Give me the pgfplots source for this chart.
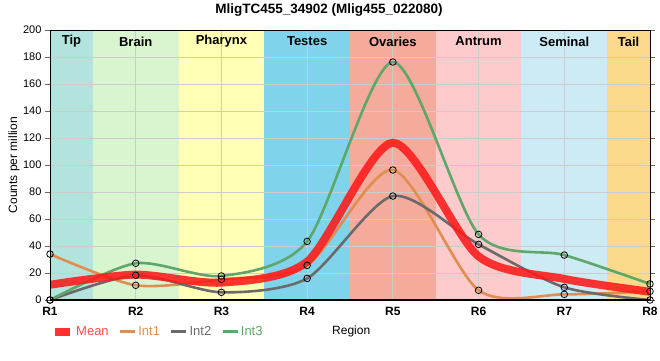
\documentclass[border=0pt]{standalone}
\usepackage{fontspec}
\setmainfont{Liberation Sans}
\usepackage{pgfplots}
\pgfplotsset{compat=1.18}
\definecolor{cTip}{HTML}{B3E3DD}
\definecolor{cBrain}{HTML}{D9F5D0}
\definecolor{cPharynx}{HTML}{FFFFB5}
\definecolor{cTestes}{HTML}{7FD4EB}
\definecolor{cOvaries}{HTML}{F5AB9C}
\definecolor{cAntrum}{HTML}{FDCBCB}
\definecolor{cSeminal}{HTML}{CDEBF4}
\definecolor{cTail}{HTML}{FDD98C}
\definecolor{cMean}{HTML}{FF1A1A}
\definecolor{cMeanT}{HTML}{FF4D4D}
\definecolor{cInt1}{HTML}{E08E50}
\definecolor{cInt2}{HTML}{6A6A6A}
\definecolor{cInt3}{HTML}{5EA66A}
\begin{document}
\begin{tikzpicture}[x=1pt,y=1pt]
\begin{axis}[
  at={(0,0)}, anchor=south west,
  scale only axis, width=600pt, height=270pt,
  xmin=1, xmax=8, ymin=0, ymax=200,
  set layers,
  xtick={1,2,3,4,5,6,7,8},
  xticklabels={R1,R2,R3,R4,R5,R6,R7,R8},
  ytick={0,20,...,200},
  grid=major,
  grid style={color=black!20, line width=0.8pt},
  axis line style={line width=0.8pt},
  tick align=outside,
  xtick style={draw=none},
  ytick style={color=black!60, line width=0.6pt},
  major tick length=5pt,
  xticklabel style={font=\bfseries\fontsize{12}{14}\selectfont, yshift=1pt},
  yticklabel style={font=\fontsize{11}{13}\selectfont, xshift=0pt},
  /pgf/number format/assume math mode=true,
  xlabel={Region},
  xlabel style={at={(axis description cs:0.502,-0.117)}, anchor=center, font=\fontsize{12}{14}\selectfont},
  ylabel={Counts per million},
  ylabel style={at={(axis description cs:-0.06,0.5)}, anchor=center, rotate=0, font=\fontsize{12}{14}\selectfont},
  legend style={at={(axis description cs:0,-0.117)}, anchor=west, draw=none, fill=none,
    font=\fontsize{13}{15}\selectfont, inner sep=1pt,
    /tikz/every even column/.append style={column sep=8pt}},
  legend columns=-1,
  legend image code/.code={\draw[#1] (0pt,0pt) -- (15pt,0pt);},
]
% background bands
\addplot[fill=cTip, draw=none, on layer=axis background, forget plot] coordinates {(1,200)(1.5,200)} \closedcycle;
\addplot[fill=cBrain, draw=none, on layer=axis background, forget plot] coordinates {(1.5,200)(2.5,200)} \closedcycle;
\addplot[fill=cPharynx, draw=none, on layer=axis background, forget plot] coordinates {(2.5,200)(3.5,200)} \closedcycle;
\addplot[fill=cTestes, draw=none, on layer=axis background, forget plot] coordinates {(3.5,200)(4.5,200)} \closedcycle;
\addplot[fill=cOvaries, draw=none, on layer=axis background, forget plot] coordinates {(4.5,200)(5.5,200)} \closedcycle;
\addplot[fill=cAntrum, draw=none, on layer=axis background, forget plot] coordinates {(5.5,200)(6.5,200)} \closedcycle;
\addplot[fill=cSeminal, draw=none, on layer=axis background, forget plot] coordinates {(6.5,200)(7.5,200)} \closedcycle;
\addplot[fill=cTail, draw=none, on layer=axis background, forget plot] coordinates {(7.5,200)(8,200)} \closedcycle;

% legend entry for Mean (plotted later, on top)
\addlegendimage{cMean, opacity=0.9, line width=8pt}
\addlegendentry{\textcolor{cMeanT}{Mean}}

% series
\addplot[cInt1, line width=2.6pt, smooth, tension=0.45, no marks]
  coordinates {(1,34)(2,10.9)(3,15.3)(4,25.7)(5,96.3)(6,7.2)(7,4.2)(8,6.4)};
\addlegendentry{\textcolor{cInt1}{Int1}}
\addplot[cInt2, line width=2.6pt, smooth, tension=0.45, no marks]
  coordinates {(1,0)(2,18.3)(3,5.7)(4,16)(5,77)(6,41.2)(7,9.4)(8,0)};
\addlegendentry{\textcolor{cInt2}{Int2}}
\addplot[cInt3, line width=2.6pt, smooth, tension=0.45, no marks]
  coordinates {(1,0)(2,27.2)(3,17.8)(4,43.4)(5,176.3)(6,48.6)(7,33.3)(8,11.9)};
\addlegendentry{\textcolor{cInt3}{Int3}}
\addplot[cMean, opacity=0.88, line width=8pt, smooth, tension=0.45, no marks, forget plot]
  coordinates {(1,11.3)(2,18.8)(3,12.9)(4,28.4)(5,116.5)(6,32.3)(7,15.6)(8,6.1)};

% markers
\addplot[only marks, mark=o, mark size=3.3pt, mark options={black, line width=0.8pt}, forget plot]
  coordinates {(1,34)(2,10.9)(3,15.3)(4,25.7)(5,96.3)(6,7.2)(7,4.2)(8,6.4)};
\addplot[only marks, mark=o, mark size=3.3pt, mark options={black, line width=0.8pt}, forget plot]
  coordinates {(1,0)(2,18.3)(3,5.7)(4,16)(5,77)(6,41.2)(7,9.4)(8,0)};
\addplot[only marks, mark=o, mark size=3.3pt, mark options={black, line width=0.8pt}, forget plot]
  coordinates {(1,0)(2,27.2)(3,17.8)(4,43.4)(5,176.3)(6,48.6)(7,33.3)(8,11.9)};

% band labels
\begin{scope}[font=\bfseries\fontsize{13}{15}\selectfont]
\node at (axis cs:1.25,191.5) {Tip};
\node at (axis cs:2,191.5) {Brain};
\node at (axis cs:3,191.5) {Pharynx};
\node at (axis cs:4,191.5) {Testes};
\node at (axis cs:5,191.5) {Ovaries};
\node at (axis cs:6,191.5) {Antrum};
\node at (axis cs:7,191.5) {Seminal};
\node at (axis cs:7.75,191.5) {Tail};
\end{scope}
\draw[line width=2.6pt, line cap=rect] (rel axis cs:0,1) -- (rel axis cs:0,0) -- (rel axis cs:1,0);
\end{axis}
\node[font=\bfseries\fontsize{13.5}{16}\selectfont] at (279,290) {MligTC455\_34902 (Mlig455\_022080)};
\pgfresetboundingbox
\useasboundingbox (-50,-60) rectangle (610,300);
\end{tikzpicture}
\end{document}
